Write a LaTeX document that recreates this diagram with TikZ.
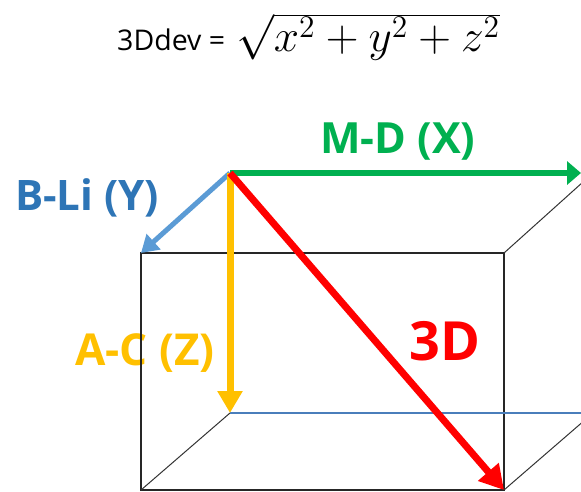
\documentclass[tikz,border=0pt]{standalone}
\usepackage{graphicx}
\usepackage{fontspec}
\setmainfont{Open Sans}
\newfontfamily\eqfont{Open Sans}
\usetikzlibrary{arrows.meta}
\definecolor{cgreen}{HTML}{00B050}
\definecolor{cyellow}{HTML}{FFC000}
\definecolor{cred}{HTML}{FF0000}
\definecolor{cblue}{HTML}{5B9BD5}
\definecolor{cbluetext}{HTML}{2E75B6}
\definecolor{cthin}{HTML}{4A7EBB}
\begin{document}
\begin{tikzpicture}[x=1pt,y=-1pt,
  frontedge/.style={draw=black!85,line width=2pt},
  backedge/.style={draw=black!80,line width=1pt},
  hidden/.style={draw=cthin,line width=1.2pt},
  lbl/.style={anchor=base west,inner sep=0pt,font=\fontsize{#1}{#1}\selectfont\bfseries},
  lbl/.default=43
]
\useasboundingbox (0,0) rectangle (581,491);
\clip (0,0) rectangle (581,491);
% cube corners
\coordinate (ftl) at (141,253);
\coordinate (ftr) at (504,253);
\coordinate (fbl) at (141,490);
\coordinate (fbr) at (504,490);
\coordinate (btl) at (230,173);
\coordinate (btr) at (593,173);
\coordinate (bbl) at (230,413);
\coordinate (bbr) at (593,413);
\coordinate (gend) at (581,173);
% equation
\node[anchor=base west,inner sep=0pt,font=\eqfont\fontsize{28.5}{30}\selectfont] (eqtxt) at (117,50) {3Ddev =};
\node[anchor=base west,inner sep=0pt,font=\fontsize{20}{24}\selectfont] (eqmath) at (236,51) {\resizebox{264pt}{!}{$\sqrt{x^2+y^2+z^2}$}};
% labels
\node[lbl=43,text=cgreen] (lx) at (320,153) {M-D (X)};
\node[lbl=42,text=cbluetext] (ly) at (15,210) {B-Li (Y)};
\node[lbl=44,text=cyellow] (lz) at (75,365) {A-C (Z)};
\node[lbl=54,text=cred] (l3) at (409,360) {3D};
% cube edges
\draw[frontedge] (ftl) rectangle (fbr);
\draw[backedge] (ftr) -- (btr);
\draw[backedge] (fbl) -- (bbl);
\draw[backedge] (fbr) -- (bbr);
\draw[hidden] (bbl) -- (bbr);
% arrows
\draw[cblue,line width=5pt,-{Triangle[length=17pt,width=20pt]}] (btl) -- (ftl);
\draw[cgreen,line width=6pt,-{Triangle[length=14pt,width=23pt]}] (btl) -- (gend);
\draw[cyellow,line width=7pt,-{Triangle[length=22pt,width=24pt]}] (btl) -- (bbl);
\draw[cred,line width=7pt,-{Triangle[length=24pt,width=26pt]}] (btl) -- (fbr);
\end{tikzpicture}
\end{document}
